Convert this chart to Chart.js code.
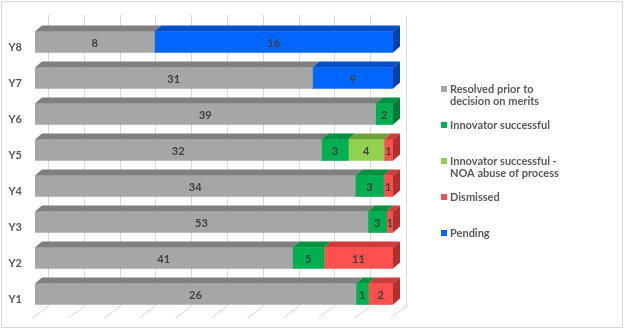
<!DOCTYPE html>
<html>
<head>
<meta charset="utf-8">
<script src="https://cdn.jsdelivr.net/npm/chart.js@4"></script>
<style>
  body { margin: 0; background: #fff; }
  #wrap { width: 624px; height: 329px; position: relative; }
</style>
</head>
<body>
<div id="wrap"><canvas id="myChart" width="624" height="329"></canvas></div>
<script>
// categories (top to bottom)
const years = ['Y8', 'Y7', 'Y6', 'Y5', 'Y4', 'Y3', 'Y2', 'Y1'];

// counts per outcome
const resolved   = [8, 31, 39, 32, 34, 53, 41, 26];
const innovator  = [0, 0, 2, 3, 3, 3, 5, 1];
const innovNoa   = [0, 0, 0, 4, 0, 0, 0, 0];
const dismissed  = [0, 0, 0, 1, 1, 1, 11, 2];
const pending    = [16, 9, 0, 0, 0, 0, 0, 0];

const seriesNames = [
  ['Resolved prior to', 'decision on merits'],
  ['Innovator successful'],
  ['Innovator successful -', 'NOA abuse of process'],
  ['Dismissed'],
  ['Pending']
];
const counts = [resolved, innovator, innovNoa, dismissed, pending];

// front, top, side colours
const colours = [
  ['#A6A6A6', '#7F7F7F', '#7F7F7F'],
  ['#00B050', '#00923F', '#007A35'],
  ['#92D050', '#6FA33A', '#5E8C30'],
  ['#FF5050', '#D13A3A', '#B32E2E'],
  ['#0066FF', '#0050CC', '#0042A8']
];

const totals = years.map((y, i) => counts.reduce((s, c) => s + c[i], 0));
const pct = c => c.map((v, i) => v / totals[i] * 100);

const DX = 7, DY = 6;

// gridlines on the back wall and floor
const gridPlugin = {
  id: 'grid3d',
  beforeDraw(chart) {
    const ctx = chart.ctx;
    ctx.save();
    ctx.fillStyle = '#fff';
    ctx.fillRect(0, 0, chart.width, chart.height);
    ctx.strokeStyle = '#D9D9D9';
    ctx.lineWidth = 1;
    ctx.strokeRect(1.5, 1.5, chart.width - 3, chart.height - 3);
    const xs = chart.scales.x;
    const a = chart.chartArea;
    for (let t = 0; t <= 100; t += 10) {
      const x = Math.round(xs.getPixelForValue(t)) + 13.5;
      ctx.beginPath();
      ctx.moveTo(x, a.top - 9);
      ctx.lineTo(x, a.bottom - 6);
      ctx.lineTo(x - 16, a.bottom + 6);
      ctx.stroke();
    }
    ctx.restore();
  }
};

// top and side faces, value labels, legend
const facePlugin = {
  id: 'faces3d',
  afterDatasetsDraw(chart) {
    const ctx = chart.ctx;
    ctx.save();
    years.forEach((y, i) => {
      let last = null;
      chart.data.datasets.forEach((ds, d) => {
        if (!counts[d][i]) return;
        const bar = chart.getDatasetMeta(d).data[i];
        const top = bar.y - bar.height / 2;
        ctx.fillStyle = colours[d][1];
        ctx.beginPath();
        ctx.moveTo(bar.base, top);
        ctx.lineTo(bar.x, top);
        ctx.lineTo(bar.x + DX, top - DY);
        ctx.lineTo(bar.base + DX, top - DY);
        ctx.closePath();
        ctx.fill();
        last = { bar, d };
      });
      if (last) {
        const b = last.bar;
        const top = b.y - b.height / 2, bot = b.y + b.height / 2;
        ctx.fillStyle = colours[last.d][2];
        ctx.beginPath();
        ctx.moveTo(b.x, top);
        ctx.lineTo(b.x + DX, top - DY);
        ctx.lineTo(b.x + DX, bot - DY);
        ctx.lineTo(b.x, bot);
        ctx.closePath();
        ctx.fill();
      }
    });
    ctx.font = 'bold 11px Lato, "Open Sans", sans-serif';
    ctx.fillStyle = '#404040';
    ctx.textAlign = 'center';
    ctx.textBaseline = 'middle';
    chart.data.datasets.forEach((ds, d) => {
      chart.getDatasetMeta(d).data.forEach((bar, i) => {
        if (!counts[d][i]) return;
        ctx.fillText(String(counts[d][i]), (bar.x + bar.base) / 2, bar.y + 1);
      });
    });
    // legend
    let ly = 89;
    ctx.font = 'bold 11px Lato, "Open Sans", sans-serif';
    seriesNames.forEach((lines, d) => {
      ctx.fillStyle = colours[d][0];
      ctx.fillRect(441, ly - 3, 6, 6);
      ctx.fillStyle = '#595959';
      ctx.textAlign = 'left';
      lines.forEach((t, k) => ctx.fillText(t, 450, ly + k * 12.5));
      ly += 36;
    });
    ctx.restore();
  }
};

const ctx = document.getElementById('myChart').getContext('2d');
new Chart(ctx, {
  type: 'bar',
  data: {
    labels: years,
    datasets: counts.map((c, d) => ({
      label: seriesNames[d].join(' '),
      data: pct(c),
      backgroundColor: colours[d][0],
      borderWidth: 0,
      barThickness: 21
    }))
  },
  options: {
    indexAxis: 'y',
    responsive: false,
    animation: false,
    layout: { padding: { top: 24, bottom: 17, right: 231, left: 0 } },
    scales: {
      x: { stacked: true, min: 0, max: 100, display: false },
      y: {
        stacked: true,
        grid: { display: false },
        border: { display: false },
        afterFit(scale) { scale.width = 35; },
        ticks: {
          padding: 5,
          labelOffset: 5,
          color: '#595959',
          font: { family: 'Lato, "Open Sans", sans-serif', size: 11, weight: 'bold' }
        }
      }
    },
    plugins: {
      legend: { display: false },
      tooltip: { enabled: false }
    }
  },
  plugins: [gridPlugin, facePlugin]
});
</script>
</body>
</html>
